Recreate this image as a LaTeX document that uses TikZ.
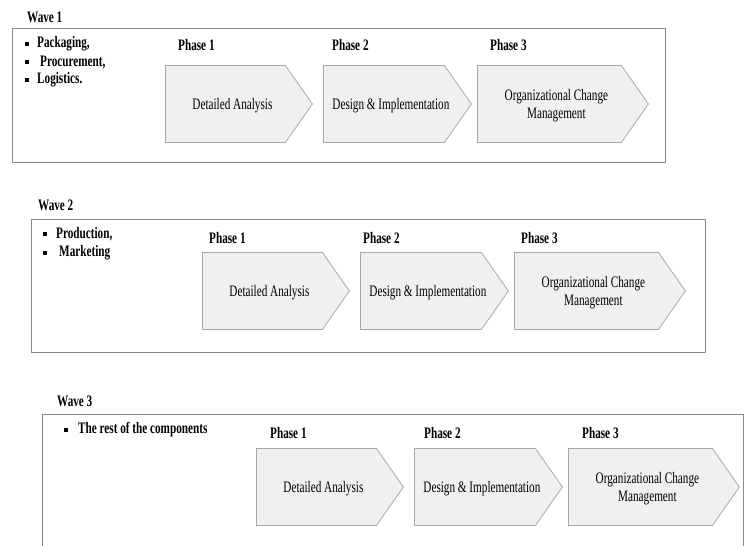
\documentclass[tikz,border=0pt]{standalone}
\usepackage{fontspec}
\setmainfont{Liberation Serif}[FakeStretch=0.7]
\usetikzlibrary{shapes.symbols, positioning}
\definecolor{boxgray}{HTML}{8A8A8A}
\definecolor{chevfill}{HTML}{F0F0F0}
\definecolor{chevline}{HTML}{A8A8A8}

\begin{document}
\begin{tikzpicture}[
    x=1pt, y=-1pt,
    wavebox/.style={draw=boxgray, line width=0.9pt},
    chevron/.style={shape=signal, signal to=east, signal from=nowhere,
        signal pointer angle=110, draw=chevline, fill=chevfill,
        line width=0.8pt, minimum height=77pt, inner sep=0pt, anchor=west},
    chevtxt/.style={align=center, inner sep=0pt, font=\fontsize{16}{18}\selectfont},
    headtxt/.style={anchor=west, inner sep=0pt, font=\bfseries\fontsize{16}{18}\selectfont},
    bulletsq/.style={fill=black, minimum size=3.2pt, inner sep=0pt}
]

\useasboundingbox (0,0) rectangle (750,546);

% Wave boxes
\draw[wavebox] (12,28) rectangle (665,162);
\draw[wavebox] (31,219) rectangle (705,352);
\draw[wavebox] (42,546) |- (743,414) -- (743,546);

% Wave titles
\node[headtxt] (wave1) at (27,17) {Wave 1};
\node[headtxt] (wave2) at (38,205) {Wave 2};
\node[headtxt] (wave3) at (57,401) {Wave 3};

% Components
\node[bulletsq] (b11) at (27,44) {};
\node[headtxt] (c11) at (37,44) {Packaging,};
\node[bulletsq] (b12) at (27,62) {};
\node[headtxt] (c12) at (40,62) {Procurement,};
\node[bulletsq] (b13) at (27,80) {};
\node[headtxt] (c13) at (37,80) {Logistics.};

\node[bulletsq] (b21) at (45,234) {};
\node[headtxt] (c21) at (56,234) {Production,};
\node[bulletsq] (b22) at (45,253) {};
\node[headtxt] (c22) at (59,253) {Marketing};

\node[bulletsq] (b31) at (66,430) {};
\node[headtxt] (c31) at (78,430) {The rest of the components};

% Phases
\foreach \w/\ax/\ay/\lx/\ly in {1/0/0/0/0, 2/37/187/31/193, 3/91/383/92/388} {
    \begin{scope}[shift={(\ax,\ay)}]
        \node[chevron, minimum width=147pt] (p\w a) at (165,104) {};
        \node[chevron, minimum width=148pt] (p\w b) at (323,104) {};
        \node[chevron, minimum width=171pt] (p\w c) at (477,104) {};
    \end{scope}
    \node[chevtxt] (t\w a) at ([xshift=7pt, yshift=-1.5pt]p\w a.center) {Detailed Analysis};
    \node[chevtxt] (t\w b) at ([xshift=7pt, yshift=-1.5pt]p\w b.center) {Design \& Implementation};
    \node[chevtxt] (t\w c) at ([xshift=7pt, yshift=-1.5pt]p\w c.center) {Organizational Change\\Management};
    \begin{scope}[shift={(\lx,\ly)}]
        \node[headtxt] (l\w a) at (178,45) {Phase 1};
        \node[headtxt] (l\w b) at (332,45) {Phase 2};
        \node[headtxt] (l\w c) at (490,45) {Phase 3};
    \end{scope}
}

\end{tikzpicture}
\end{document}
